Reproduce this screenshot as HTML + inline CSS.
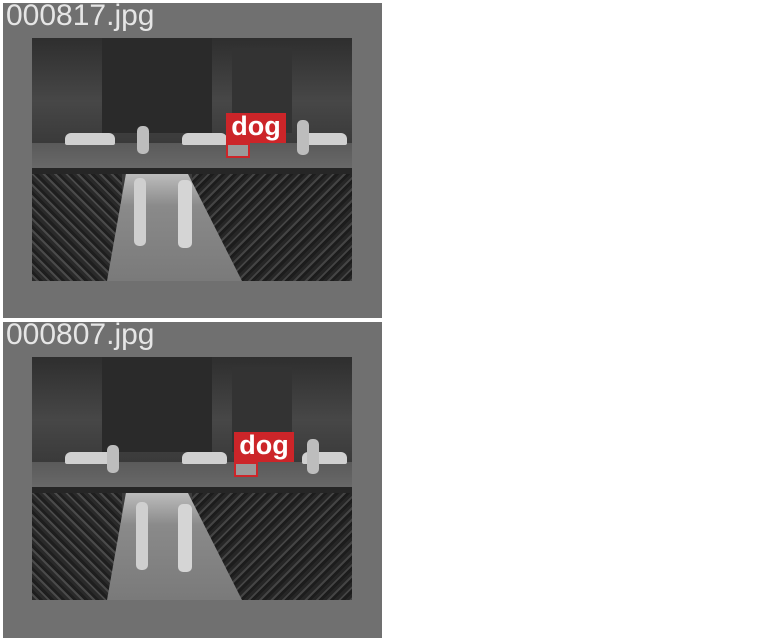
<!DOCTYPE html>
<html><head><meta charset="utf-8"><style>
body{margin:0;width:768px;height:640px;background:#fff;position:relative;overflow:hidden;font-family:"Liberation Sans","DejaVu Sans",sans-serif}
.panel{position:absolute;left:3px;width:379px;background:#707070}
.title{position:absolute;left:3px;top:-4px;font-size:30px;color:#e6e6e6;letter-spacing:0px}
.img{position:absolute;left:29px;top:35px;width:320px;height:243px;overflow:hidden;background:#3c3c3c}
.sky{position:absolute;left:0;top:0;width:320px;height:105px;background:linear-gradient(180deg,#2e2e2e,#474747 60%,#3a3a3a)}
.bldg{position:absolute;background:#2a2a2a}
.street{position:absolute;left:0;top:105px;width:320px;height:28px;background:linear-gradient(180deg,#5a5a5a,#6a6a6a)}
.curb{position:absolute;left:0;top:130px;width:320px;height:6px;background:#262626}
.grassL{position:absolute;left:0;top:136px;width:90px;height:107px;background:repeating-linear-gradient(45deg,#2a2a2a 0 3px,#4a4a4a 3px 5px,#1e1e1e 5px 8px)}
.grassR{position:absolute;left:160px;top:136px;width:160px;height:107px;background:repeating-linear-gradient(135deg,#262626 0 3px,#444 3px 5px,#1c1c1c 5px 8px)}
.path{position:absolute;left:75px;top:136px;width:135px;height:107px;background:linear-gradient(180deg,#bcbcbc,#8a8a8a 30%,#7a7a7a);clip-path:polygon(14% 0,60% 0,100% 100%,0 100%)}
.car{position:absolute;height:12px;border-radius:6px 6px 2px 2px;background:#d0d0d0}
.person{position:absolute;width:12px;border-radius:5px;background:#bdbdbd}
.lbl{position:absolute;width:60px;height:30px;background:#cc2529;color:#fff;font-size:27px;line-height:26px;text-align:center;font-weight:bold}
.box{position:absolute;width:20px;height:11px;border:2px solid #cc2529;background:#9a9a9a}
</style></head><body>
<div class="panel" style="top:3px;height:315px">
 <div class="title">000817.jpg</div>
 <div class="img">
  <div class="sky"></div>
  <div class="bldg" style="left:70px;top:0;width:110px;height:95px"></div>
  <div class="bldg" style="left:200px;top:10px;width:60px;height:85px;background:#333"></div>
  <div class="street"></div>
  <div class="car" style="left:33px;top:95px;width:50px"></div>
  <div class="car" style="left:150px;top:95px;width:45px"></div>
  <div class="car" style="left:270px;top:95px;width:45px"></div>
  <div class="person" style="left:105px;top:88px;height:28px"></div>
  <div class="person" style="left:265px;top:82px;height:35px"></div>
  <div class="curb"></div>
  <div class="grassL"></div><div class="grassR"></div><div class="path"></div>
  <div class="person" style="left:102px;top:140px;height:68px;background:#cfcfcf"></div>
  <div class="person" style="left:146px;top:142px;height:68px;background:#d5d5d5;width:14px"></div>
 </div>
 <div class="box" style="left:223px;top:140px"></div>
 <div class="lbl" style="left:223px;top:110px">dog</div>
</div>
<div class="panel" style="top:322px;height:316px">
 <div class="title">000807.jpg</div>
 <div class="img">
  <div class="sky"></div>
  <div class="bldg" style="left:70px;top:0;width:110px;height:95px"></div>
  <div class="bldg" style="left:200px;top:10px;width:60px;height:85px;background:#333"></div>
  <div class="street"></div>
  <div class="car" style="left:33px;top:95px;width:50px"></div>
  <div class="car" style="left:150px;top:95px;width:45px"></div>
  <div class="car" style="left:270px;top:95px;width:45px"></div>
  <div class="person" style="left:75px;top:88px;height:28px"></div>
  <div class="person" style="left:275px;top:82px;height:35px"></div>
  <div class="curb"></div>
  <div class="grassL"></div><div class="grassR"></div><div class="path"></div>
  <div class="person" style="left:104px;top:145px;height:68px;background:#cfcfcf"></div>
  <div class="person" style="left:146px;top:147px;height:68px;background:#d5d5d5;width:14px"></div>
 </div>
 <div class="box" style="left:231px;top:140px"></div>
 <div class="lbl" style="left:231px;top:110px">dog</div>
</div>
</body></html>
